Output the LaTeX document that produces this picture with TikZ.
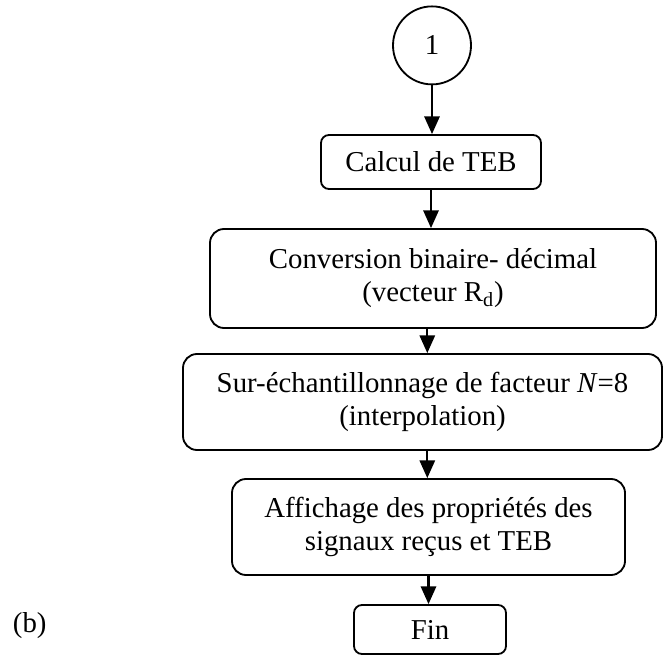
\documentclass[tikz,border=0pt]{standalone}
\usepackage{fontspec}
\setmainfont{Liberation Serif}
\usepackage{tikz}
\usetikzlibrary{shapes, arrows.meta, positioning, calc}

\tikzset{
	flowbox/.style={draw, line width=1.3pt, align=center, rounded corners=0.35cm},
	smallbox/.style={draw, line width=1.3pt, align=center, rounded corners=0.2cm},
	flowarrow/.style={line width=1.5pt, -{Triangle[length=0.44cm, width=0.38cm]}}
}

\begin{document}
\begin{tikzpicture}[font=\fontsize{20.5}{23.5}\selectfont]
		\useasboundingbox (0, 0) rectangle (16.575, 16.425);

		\coordinate (start)  at (10.8, 15.29);
		\coordinate (teb)    at (10.775, 12.375);
		\coordinate (conv)   at (10.825, 9.4625);
		\coordinate (interp) at (10.5625, 6.375);
		\coordinate (disp)   at (10.7125, 3.25);
		\coordinate (stop)   at (10.75, 0.6875);

		\node[draw, circle, line width=1.3pt, minimum size=1.95cm, inner sep=0pt] (START) at (start) {1};
		\node[smallbox, minimum width=5.5cm, minimum height=1.35cm] (TEB) at (teb) {Calcul de TEB};
		\node[flowbox, minimum width=11.15cm, minimum height=2.475cm] (CONV) at (conv) {Conversion binaire- décimal\\(vecteur R\textsubscript{d})};
		\node[flowbox, minimum width=11.975cm, minimum height=2.4cm] (INTERP) at (interp) {Sur-échantillonnage de facteur \textit{N}=8\\(interpolation)};
		\node[flowbox, minimum width=9.825cm, minimum height=2.4cm] (DISP) at (disp) {Affichage des propriétés des\\signaux reçus et TEB};
		\node[smallbox, minimum width=3.8cm, minimum height=1.225cm] (STOP) at (stop) {Fin};
		\node[anchor=base west] (LBL) at (0.2, 0.625) {(b)};

		% the middle arrows sit a little right of the wide box centre
		\coordinate (in top) at ($(INTERP.north)+(0.12,0)$);
		\coordinate (in bot) at ($(INTERP.south)+(0.12,0)$);

		\draw[flowarrow] (START.south) -- (START.south |- TEB.north);
		\draw[flowarrow] (TEB.south) -- (TEB.south |- CONV.north);
		\draw[flowarrow] (in top |- CONV.south) -- (in top);
		\draw[flowarrow] (in bot) -- (in bot |- DISP.north);
		\draw[flowarrow] (DISP.south) -- (DISP.south |- STOP.north);
	\end{tikzpicture}
\end{document}
